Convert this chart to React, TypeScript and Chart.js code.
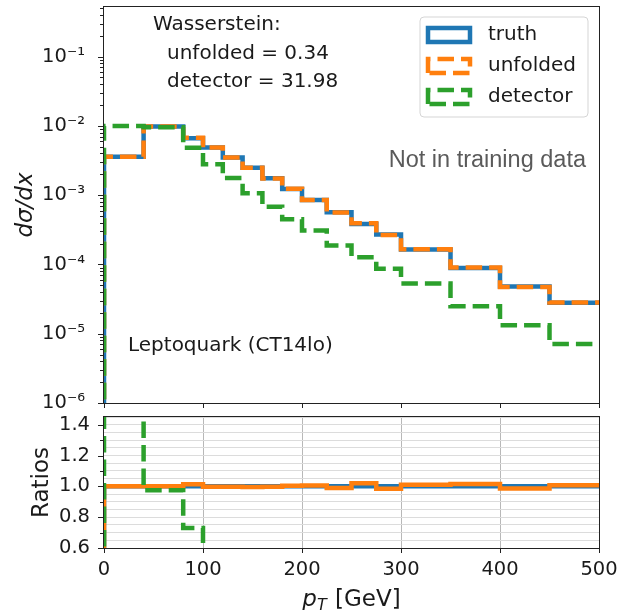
import React, { useEffect, useRef } from 'react';
import { Chart, registerables } from 'chart.js';

Chart.register(...registerables);

// ---- data ----
const binEdges = [0, 40, 80, 100, 120, 140, 160, 180, 200, 225, 250, 275, 300, 350, 400, 450, 500];
const truthValues = [3.58e-3, 9.8e-3, 6.65e-3, 4.87e-3, 3.5e-3, 2.49e-3, 1.75e-3, 1.23e-3, 8.5e-4, 5.66e-4, 3.85e-4, 2.7e-4, 1.64e-4, 8.9e-5, 4.8e-5, 2.8e-5];
const unfoldedValues = [3.58e-3, 9.8e-3, 6.74e-3, 4.86e-3, 3.49e-3, 2.48e-3, 1.745e-3, 1.235e-3, 8.55e-4, 5.6e-4, 3.93e-4, 2.66e-4, 1.656e-4, 9.03e-5, 4.73e-5, 2.82e-5];
const detectorValues = [1.0e-2, 9.55e-3, 4.85e-3, 2.8e-3, 1.77e-3, 1.07e-3, 6.8e-4, 4.5e-4, 3.1e-4, 1.88e-4, 1.27e-4, 8.7e-5, 5.3e-5, 2.49e-5, 1.32e-5, 7.1e-6];

const seriesLabels = ['truth', 'unfolded', 'detector'];
const yTickExponents = [-6, -5, -4, -3, -2, -1];
const yTickLabels = ['10\u207B\u2076', '10\u207B\u2075', '10\u207B\u2074', '10\u207B\u00B3', '10\u207B\u00B2', '10\u207B\u00B9'];
const ratioTickLabels = ['0.6', '0.8', '1.0', '1.2', '1.4'];
const xTickLabels = ['0', '100', '200', '300', '400', '500'];

const wassersteinLines = ['Wasserstein:', 'unfolded = 0.34', 'detector = 31.98'];
const processLabel = 'Leptoquark (CT14lo)';
const noteLabel = 'Not in training data';

// ---- style ----
const BLUE = '#1f77b4';
const ORANGE = '#ff7f0e';
const GREEN = '#2ca02c';
const AXIS = '#222222';
const TEXT = '#1a1a1a';
const FONT = "'DejaVu Sans', sans-serif";
const DASH = [16.5, 7];
const LW = 4.5;
const LOG_FLOOR = 1e-9;
const RATIO_FLOOR = 0;

function stepPoints(values: number[], floor: number) {
  const pts: { x: number; y: number }[] = [{ x: binEdges[0], y: floor }];
  values.forEach((v, i) => pts.push({ x: binEdges[i], y: v }));
  pts.push({ x: binEdges[binEdges.length - 1], y: values[values.length - 1] });
  return pts;
}

function ratio(a: number[], b: number[]) {
  return a.map((v, i) => v / b[i]);
}

function lineDs(label: string, data: any[], color: string, dashed: boolean, order: number) {
  return {
    label,
    data,
    borderColor: color,
    backgroundColor: color,
    borderWidth: LW,
    borderDash: dashed ? DASH : [],
    borderJoinStyle: 'miter' as const,
    borderCapStyle: 'butt' as const,
    stepped: 'before' as const,
    pointRadius: 0,
    tension: 0,
    fill: false,
    order,
    clip: 0,
  };
}

const framePlugin = {
  id: 'frame',
  afterDatasetsDraw(chart: any) {
    const { ctx, chartArea: a } = chart;
    ctx.save();
    ctx.strokeStyle = AXIS;
    ctx.lineWidth = 1;
    ctx.setLineDash([]);
    ctx.strokeRect(a.left - 0.5, a.top - 0.5, a.right - a.left + 1, a.bottom - a.top + 1);
    ctx.restore();
  },
};

// y tick marks drawn from the scale's own ticks
function yTickPlugin(classify: (v: number) => number) {
  return {
    id: 'yTickMarks',
    afterDraw(chart: any) {
      const { ctx, chartArea: a } = chart;
      const scale = chart.scales.y;
      ctx.save();
      ctx.strokeStyle = AXIS;
      ctx.lineWidth = 1;
      scale.ticks.forEach((t: any) => {
        const len = classify(t.value);
        if (!len) return;
        const y = Math.round(scale.getPixelForValue(t.value)) + 0.5;
        ctx.beginPath();
        ctx.moveTo(a.left - 1 - len, y);
        ctx.lineTo(a.left - 1, y);
        ctx.stroke();
      });
      ctx.restore();
    },
  };
}

function isPow10(v: number) {
  const e = Math.log10(v);
  return Math.abs(e - Math.round(e)) < 1e-9;
}

const logClassify = (v: number) => {
  if (isPow10(v)) return 5;
  const e = Math.floor(Math.log10(v) + 1e-12);
  const m = v / Math.pow(10, e);
  return Math.abs(m - Math.round(m)) < 1e-6 ? 3 : 0;
};

const ratioClassify = (v: number) => {
  const r = Math.round(v * 100);
  if (Math.abs(v * 100 - r) > 1e-6) return 0;
  if (r % 20 === 0) return 5;
  if (r % 10 === 0) return 3;
  return 0;
};

const topOverlayPlugin = {
  id: 'topOverlay',
  afterDraw(chart: any) {
    const { ctx, chartArea: a } = chart;
    ctx.save();
    // annotation text
    ctx.fillStyle = TEXT;
    ctx.font = `20px ${FONT}`;
    ctx.textAlign = 'left';
    ctx.textBaseline = 'alphabetic';
    ctx.fillText(wassersteinLines[0], a.left + 49, a.top + 23);
    ctx.fillText(wassersteinLines[1], a.left + 63, a.top + 51.5);
    ctx.fillText(wassersteinLines[2], a.left + 63, a.top + 80);
    ctx.fillText(processLabel, a.left + 24, a.top + 344);
    ctx.fillStyle = '#5a5a5a';
    ctx.font = "23.5px 'Liberation Sans', Arial, sans-serif";
    ctx.textAlign = 'right';
    ctx.fillText(noteLabel, a.right - 13, a.top + 160);

    // legend
    const bx = a.right - 179;
    const by = a.top + 10;
    const bw = 168;
    const bh = 100;
    ctx.beginPath();
    const r = 4;
    ctx.moveTo(bx + r, by);
    ctx.lineTo(bx + bw - r, by);
    ctx.arcTo(bx + bw, by, bx + bw, by + r, r);
    ctx.lineTo(bx + bw, by + bh - r);
    ctx.arcTo(bx + bw, by + bh, bx + bw - r, by + bh, r);
    ctx.lineTo(bx + r, by + bh);
    ctx.arcTo(bx, by + bh, bx, by + bh - r, r);
    ctx.lineTo(bx, by + r);
    ctx.arcTo(bx, by, bx + r, by, r);
    ctx.closePath();
    ctx.fillStyle = 'rgba(255,255,255,0.85)';
    ctx.fill();
    ctx.strokeStyle = '#d5d5d5';
    ctx.lineWidth = 1;
    ctx.stroke();

    const colors = [BLUE, ORANGE, GREEN];
    const dashed = [false, true, true];
    seriesLabels.forEach((lab, i) => {
      const cy = a.top + 28 + i * 31;
      ctx.save();
      ctx.strokeStyle = colors[i];
      ctx.lineWidth = LW;
      ctx.lineJoin = 'miter';
      ctx.setLineDash(dashed[i] ? DASH : []);
      ctx.beginPath();
      const hx = a.right - 171;
      const hy = cy - 7;
      ctx.moveTo(hx, hy + 14);
      ctx.lineTo(hx, hy);
      ctx.lineTo(hx + 42, hy);
      ctx.lineTo(hx + 42, hy + 14);
      ctx.closePath();
      ctx.stroke();
      ctx.restore();
      ctx.fillStyle = TEXT;
      ctx.font = `20px ${FONT}`;
      ctx.textAlign = 'left';
      ctx.textBaseline = 'middle';
      ctx.fillText(lab, a.right - 111, cy);
    });
    ctx.restore();
  },
};

const xTitlePlugin = {
  id: 'xTitle',
  afterDraw(chart: any) {
    const { ctx, chartArea: a } = chart;
    ctx.save();
    ctx.fillStyle = TEXT;
    ctx.textBaseline = 'alphabetic';
    ctx.textAlign = 'left';
    const fMain = `italic 23px ${FONT}`;
    const fSub = `italic 16px ${FONT}`;
    const fUp = `23px ${FONT}`;
    ctx.font = fMain;
    const wp = ctx.measureText('p').width;
    ctx.font = fSub;
    const wt = ctx.measureText('T').width;
    ctx.font = fUp;
    const wr = ctx.measureText(' [GeV]').width;
    const total = wp + wt + 1 + wr;
    let x = (a.left + a.right) / 2 - total / 2;
    const base = a.bottom + 58;
    ctx.font = fMain;
    ctx.fillText('p', x, base);
    x += wp;
    ctx.font = fSub;
    ctx.fillText('T', x, base + 4);
    x += wt + 1;
    ctx.font = fUp;
    ctx.fillText(' [GeV]', x, base);
    ctx.restore();
  },
};

const tickFont = { family: FONT, size: 19.5 };

const fitY = (s: any) => {
  s.width = 104;
  s.paddingTop = 0;
  s.paddingBottom = 0;
};

function App() {
  const topRef = useRef<HTMLCanvasElement>(null);
  const botRef = useRef<HTMLCanvasElement>(null);

  useEffect(() => {
    const top = new Chart(topRef.current as HTMLCanvasElement, {
      type: 'line',
      data: {
        datasets: [
          lineDs(seriesLabels[0], stepPoints(truthValues, LOG_FLOOR), BLUE, false, 3),
          lineDs(seriesLabels[1], stepPoints(unfoldedValues, LOG_FLOOR), ORANGE, true, 2),
          lineDs(seriesLabels[2], stepPoints(detectorValues, LOG_FLOOR), GREEN, true, 1),
        ] as any,
      },
      options: {
        animation: false,
        responsive: false,
        maintainAspectRatio: false,
        events: [],
        layout: { padding: { top: 7, right: 21, left: 0, bottom: 0 } },
        plugins: { legend: { display: false }, tooltip: { enabled: false } },
        scales: {
          x: {
            type: 'linear',
            min: 0,
            max: 500,
            ticks: { display: false, stepSize: 100 },
            grid: { display: true, drawOnChartArea: false, drawTicks: true, tickLength: 5, tickColor: AXIS, tickWidth: 1 },
            border: { display: false },
            afterFit: (s: any) => { s.height = 9; s.paddingLeft = 0; s.paddingRight = 0; },
          },
          y: {
            type: 'logarithmic',
            min: 1e-6,
            max: 0.52,
            ticks: {
              autoSkip: false,
              padding: 11,
              color: TEXT,
              font: tickFont,
              callback: (v: any) => {
                const val = Number(v);
                if (!isPow10(val)) return '';
                const idx = yTickExponents.indexOf(Math.round(Math.log10(val)));
                return idx >= 0 ? yTickLabels[idx] : '';
              },
            },
            grid: { display: false },
            border: { display: false },
            title: {
              display: true,
              text: 'd\u03C3/dx',
              color: TEXT,
              font: { family: FONT, size: 23, style: 'italic' },
              padding: { top: 12, bottom: 0 },
            },
            afterFit: fitY,
          },
        },
      } as any,
      plugins: [framePlugin, yTickPlugin(logClassify), topOverlayPlugin],
    });

    const bot = new Chart(botRef.current as HTMLCanvasElement, {
      type: 'line',
      data: {
        datasets: [
          lineDs(seriesLabels[0], stepPoints(ratio(truthValues, truthValues), RATIO_FLOOR), BLUE, false, 3),
          lineDs(seriesLabels[1], stepPoints(ratio(unfoldedValues, truthValues), RATIO_FLOOR), ORANGE, false, 2),
          lineDs(seriesLabels[2], stepPoints(ratio(detectorValues, truthValues), RATIO_FLOOR), GREEN, true, 1),
        ] as any,
      },
      options: {
        animation: false,
        responsive: false,
        maintainAspectRatio: false,
        events: [],
        layout: { padding: { top: 7, right: 21, left: 0, bottom: 0 } },
        plugins: { legend: { display: false }, tooltip: { enabled: false } },
        scales: {
          x: {
            type: 'linear',
            min: 0,
            max: 500,
            ticks: {
              stepSize: 100,
              padding: 5,
              color: TEXT,
              font: tickFont,
              callback: (v: any) => {
                const idx = xTickLabels.indexOf(String(Math.round(Number(v))));
                return idx >= 0 ? xTickLabels[idx] : '';
              },
            },
            grid: {
              display: true,
              drawOnChartArea: true,
              drawTicks: true,
              tickLength: 5,
              tickColor: AXIS,
              tickWidth: 1,
              lineWidth: 1,
              color: (c: any) => (c.tick && (c.tick.value === 0 || c.tick.value === 500) ? 'rgba(0,0,0,0)' : '#b8b8b8'),
            },
            border: { display: false },
            afterFit: (s: any) => { s.height = 62; s.paddingLeft = 0; s.paddingRight = 0; },
          },
          y: {
            type: 'linear',
            min: 0.6,
            max: 1.45,
            ticks: {
              stepSize: 0.05,
              autoSkip: false,
              padding: 14,
              color: TEXT,
              font: tickFont,
              callback: (v: any) => {
                const r = Math.round(Number(v) * 100);
                if (r % 20 !== 0) return '';
                const s = (r / 100).toFixed(1);
                return ratioTickLabels.indexOf(s) >= 0 ? s : '';
              },
            },
            grid: { display: true, drawOnChartArea: true, drawTicks: false, color: '#dcdcdc', lineWidth: 1 },
            border: { display: false },
            title: {
              display: true,
              text: 'Ratios',
              color: TEXT,
              font: { family: FONT, size: 23 },
              padding: { top: 28, bottom: 0 },
            },
            afterFit: fitY,
          },
        },
      } as any,
      plugins: [framePlugin, yTickPlugin(ratioClassify), xTitlePlugin],
    });

    return () => {
      top.destroy();
      bot.destroy();
    };
  }, []);

  return (
    <div style={{ position: 'absolute', left: 0, top: 0, width: 620, height: 610, background: '#fff' }}>
      <canvas ref={topRef} width={620} height={412} style={{ position: 'absolute', left: 0, top: 0, width: 620, height: 412 }} />
      <canvas ref={botRef} width={620} height={200} style={{ position: 'absolute', left: 0, top: 410, width: 620, height: 200 }} />
    </div>
  );
}

export default App;
